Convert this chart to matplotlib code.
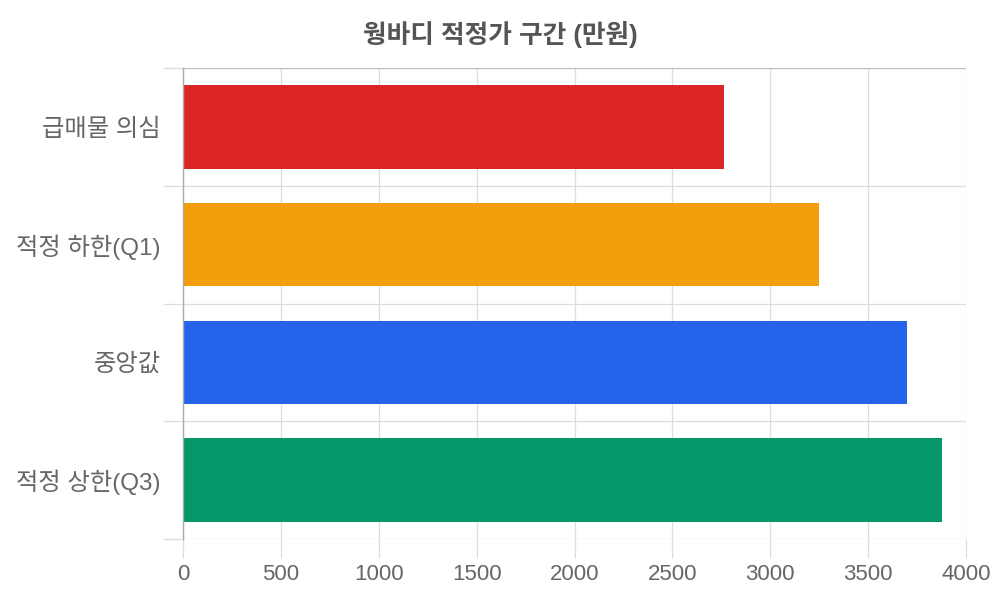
import matplotlib
matplotlib.use("Agg")
import matplotlib.pyplot as plt
from matplotlib.ticker import FixedLocator

plt.rcParams['font.family'] = ['Liberation Sans', 'Noto Sans CJK KR', 'DejaVu Sans']

categories = ['급매물 의심', '적정 하한(Q1)', '중앙값', '적정 상한(Q3)']
values = [2764, 3250, 3700, 3876]
colors = ['#dc2626', '#f39e0c', '#2563eb', '#059669']
title = '웡바디 적정가 구간 (만원)'
xticks = [0, 500, 1000, 1500, 2000, 2500, 3000, 3500, 4000]

fig = plt.figure(figsize=(10, 6), dpi=100)
ax = fig.add_axes([0.183, 1 - 539 / 600, 0.783, (539 - 68) / 600])

ypos = list(range(len(categories)))
ax.barh(ypos, values, height=0.71, color=colors, zorder=3)

ax.set_ylim(len(categories) - 0.5, -0.5)
ax.set_xlim(0, 4000)

grid_col = '#dddddd'
ax.set_yticks(ypos)
ax.set_yticklabels(categories)
ax.yaxis.set_minor_locator(FixedLocator([i - 0.5 for i in range(len(categories) + 1)]))
ax.set_xticks(xticks)
ax.set_xticklabels([str(t) for t in xticks])

ax.tick_params(axis='y', which='major', length=0, pad=16, labelsize=17.5, labelcolor='#666666')
ax.tick_params(axis='y', which='minor', length=14.4, width=0.9, color=grid_col)
ax.tick_params(axis='x', which='major', length=13.7, width=0.9, color=grid_col,
               pad=4, labelsize=16, labelcolor='#666666')

ax.grid(axis='y', which='minor', color=grid_col, linewidth=0.9, zorder=0)
ax.grid(axis='x', which='major', color=grid_col, linewidth=0.9, zorder=0)

for s in ['top', 'right', 'bottom']:
    ax.spines[s].set_visible(False)
ax.spines['left'].set_color('#aaaaaa')
ax.spines['left'].set_linewidth(1.0)
ax.spines['left'].set_zorder(4)
ax.xaxis.get_major_ticks()[0].tick1line.set_color('#aaaaaa')

fig.canvas.draw()
minor = ax.yaxis.get_minor_ticks()
# top edge line slightly darker, bottom edge a touch darker
for t in minor:
    loc = t.get_loc()
    if abs(loc - (-0.5)) < 1e-6:
        t.gridline.set_color('#bbbbbb')
        t.tick1line.set_color('#bbbbbb')
    elif abs(loc - (len(categories) - 0.5)) < 1e-6:
        t.gridline.set_color('#cccccc')
        t.tick1line.set_color('#cccccc')

fig.text(0.5, 1 - 35 / 600, title, ha='center', va='center', fontsize=18.5,
         fontweight='bold', color='#555555')

fig.savefig('out.png', dpi=100, facecolor='white')
